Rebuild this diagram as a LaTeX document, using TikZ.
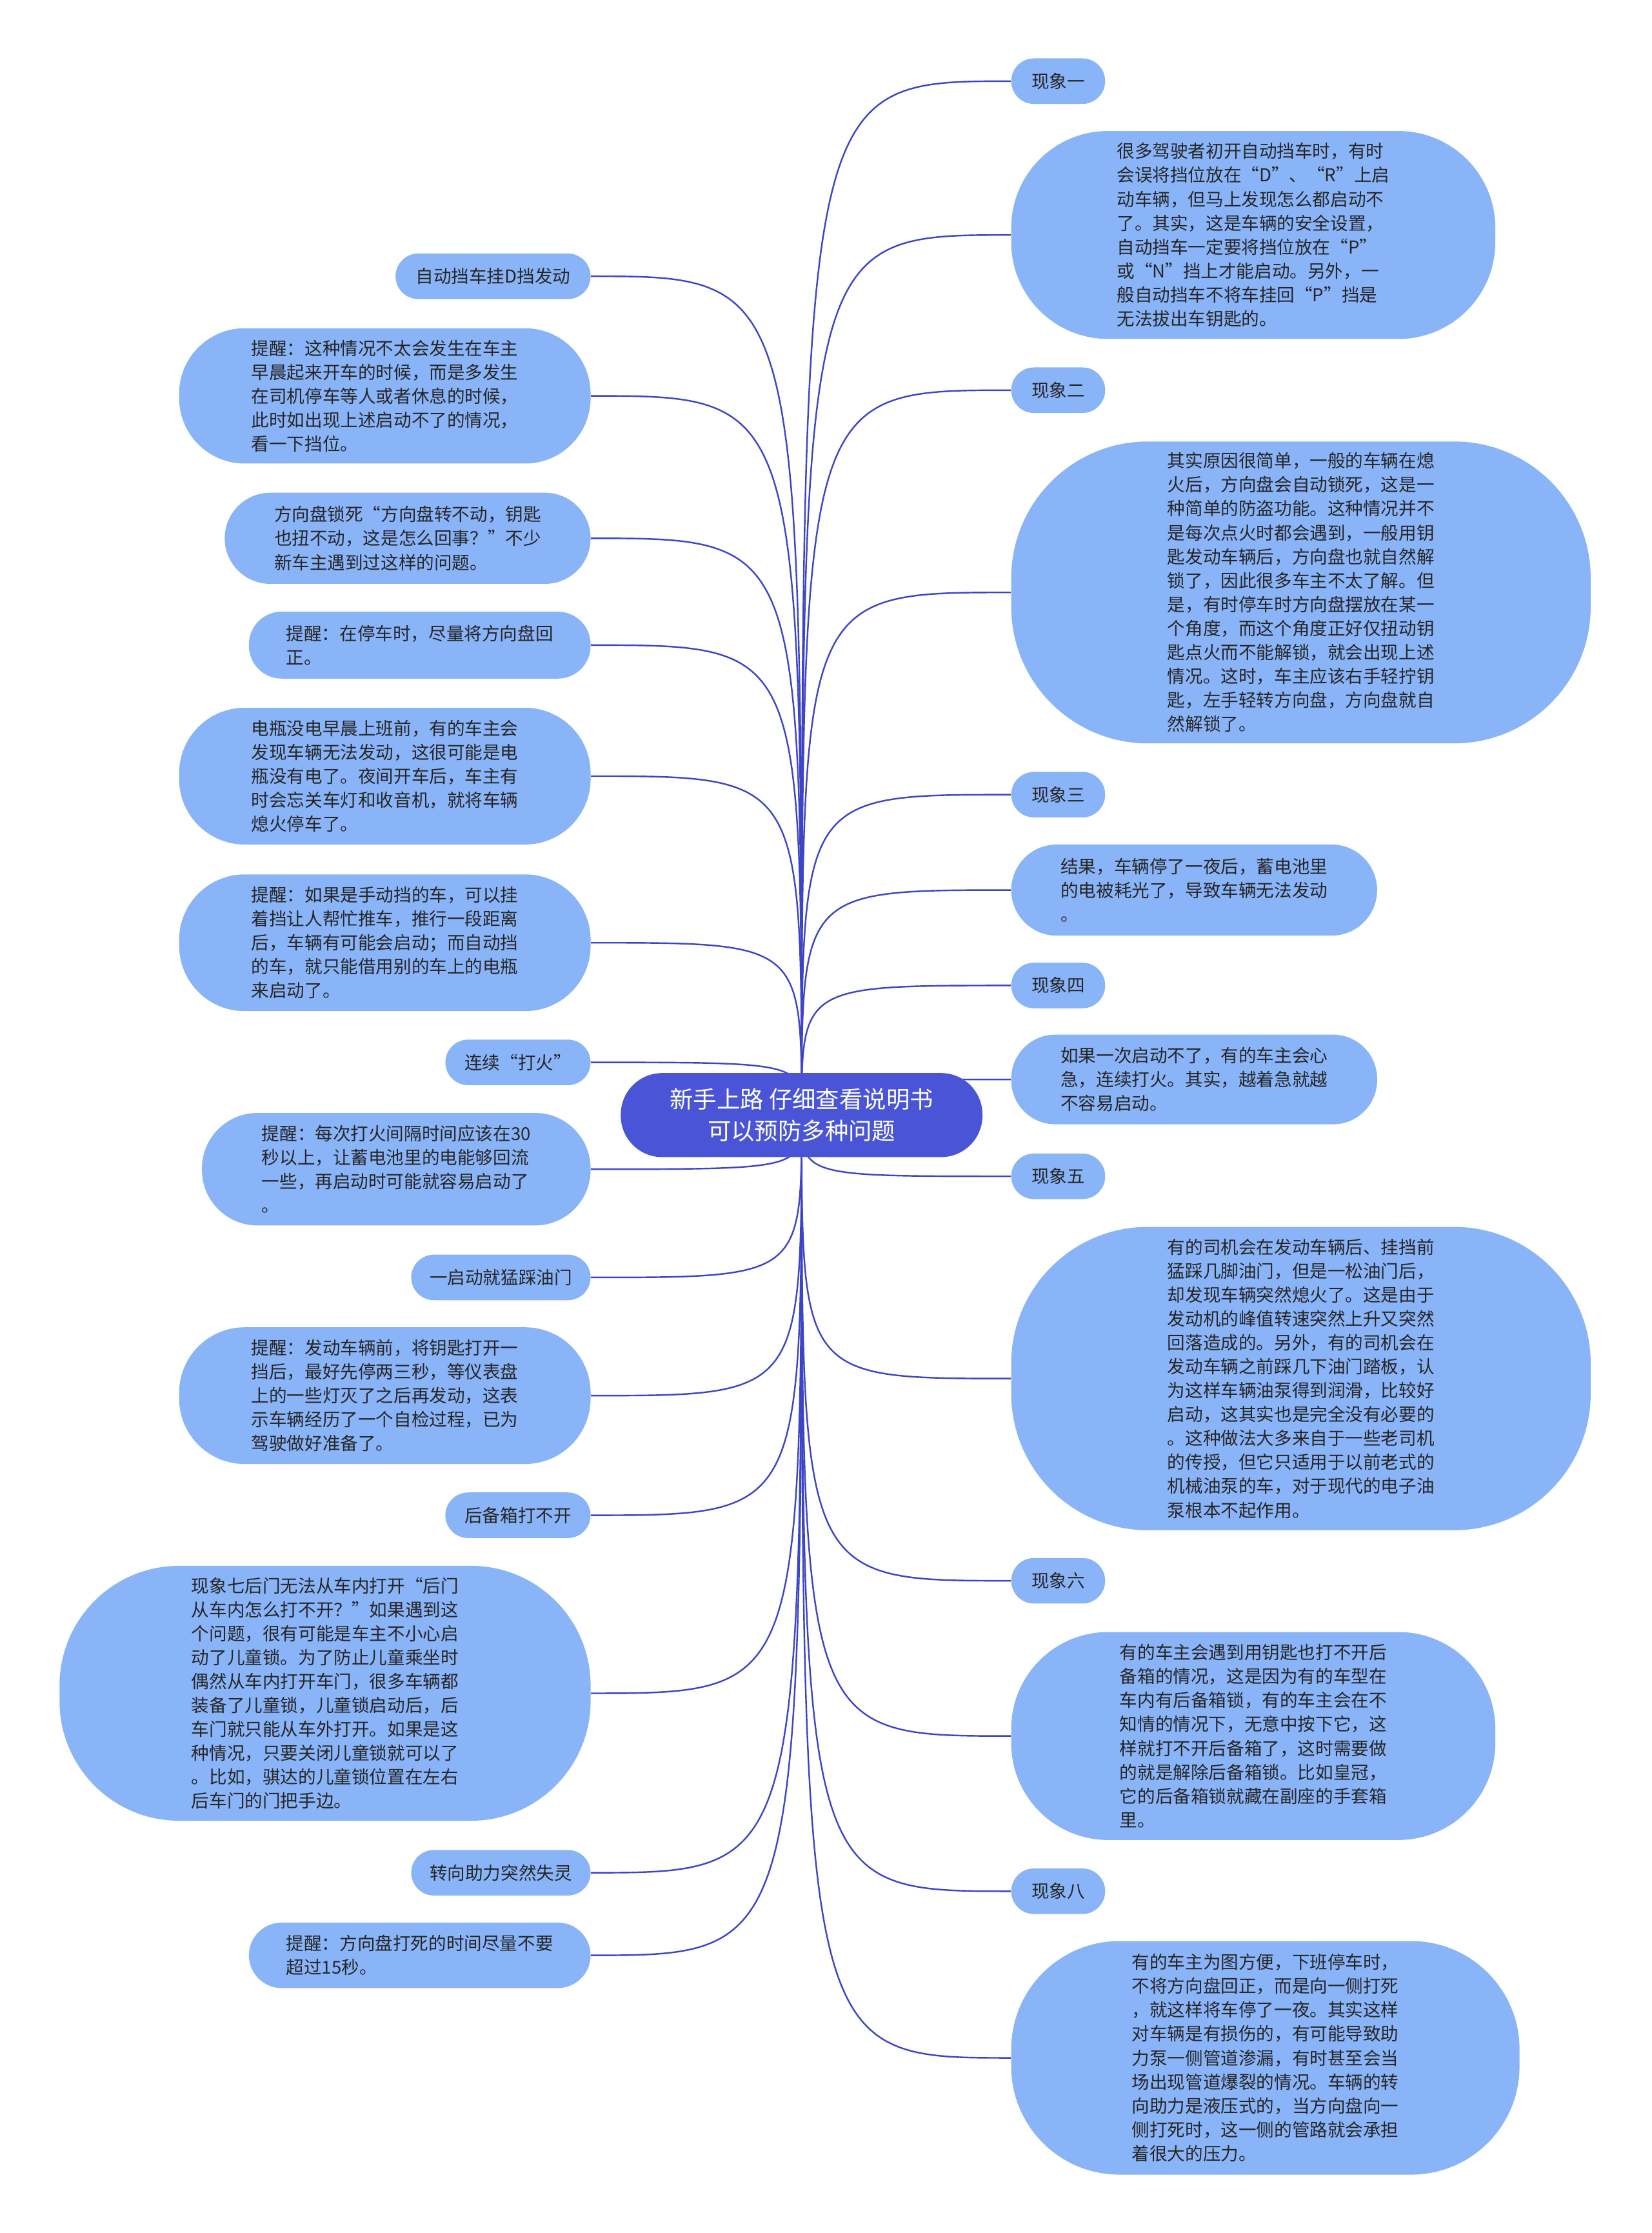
\documentclass[tikz,border=0pt]{standalone}
\usepackage{fontspec}
\newfontfamily\cjk{Noto Sans CJK SC}
\usetikzlibrary{positioning}
\pgfdeclarelayer{bg}
\pgfsetlayers{bg,main}
\definecolor{leafblue}{HTML}{8AB4F8}
\definecolor{rootblue}{HTML}{4A54D6}
\definecolor{linkblue}{HTML}{3D45C6}
\tikzset{
  leaf/.style={fill=leafblue, text=black!85, align=left, inner sep=0pt,
    font=\cjk\fontsize{12.5}{16.8}\selectfont},
  tag/.style={leaf, rounded corners=16pt, minimum height=32pt},
  blob/.style={leaf, rounded corners=#1},
  link/.style={draw=linkblue, line width=1.1pt},
}
\begin{document}
\begin{tikzpicture}[x=1pt, y=-1pt]
        % Page frame
        \useasboundingbox (0,0) rectangle (1160,1568);

        % Root node
        \node[fill=rootblue, text=white, rounded corners=29pt, minimum width=254pt,
          minimum height=59pt, align=center, inner sep=0pt,
          font=\cjk\fontsize{16.5}{22}\selectfont] (root) at (563,783)
          {新手上路 仔细查看说明书\\可以预防多种问题};

        % Right branch
        \node[tag, minimum width=66pt, anchor=west] (p1) at (710,57) {现象一};
        \node[blob=68pt, minimum width=340pt, minimum height=146pt, anchor=west] (t1) at (710,165)
          {很多驾驶者初开自动挡车时，有时\\会误将挡位放在“D”、“R”上启\\动车辆，但马上发现怎么都启动不\\了。其实，这是车辆的安全设置，\\自动挡车一定要将挡位放在“P”\\或“N”挡上才能启动。另外，一\\般自动挡车不将车挂回“P”挡是\\无法拔出车钥匙的。};
        \node[tag, minimum width=66pt, anchor=west] (p2) at (710,274) {现象二};
        \node[blob=96pt, minimum width=407pt, minimum height=212pt, anchor=west] (t2) at (710,416)
          {其实原因很简单，一般的车辆在熄\\火后，方向盘会自动锁死，这是一\\种简单的防盗功能。这种情况并不\\是每次点火时都会遇到，一般用钥\\匙发动车辆后，方向盘也就自然解\\锁了，因此很多车主不太了解。但\\是，有时停车时方向盘摆放在某一\\个角度，而这个角度正好仅扭动钥\\匙点火而不能解锁，就会出现上述\\情况。这时，车主应该右手轻拧钥\\匙，左手轻转方向盘，方向盘就自\\然解锁了。};
        \node[tag, minimum width=66pt, anchor=west] (p3) at (710,558) {现象三};
        \node[blob=32pt, minimum width=257pt, minimum height=64pt, anchor=west] (t3) at (710,625)
          {结果，车辆停了一夜后，蓄电池里\\的电被耗光了，导致车辆无法发动\\。};
        \node[tag, minimum width=66pt, anchor=west] (p4) at (710,692) {现象四};
        \node[blob=31pt, minimum width=257pt, minimum height=63pt, anchor=west] (t4) at (710,758)
          {如果一次启动不了，有的车主会心\\急，连续打火。其实，越着急就越\\不容易启动。};
        \node[tag, minimum width=66pt, anchor=west] (p5) at (710,826) {现象五};
        \node[blob=96pt, minimum width=407pt, minimum height=213pt, anchor=west] (t5) at (710,968)
          {有的司机会在发动车辆后、挂挡前\\猛踩几脚油门，但是一松油门后，\\却发现车辆突然熄火了。这是由于\\发动机的峰值转速突然上升又突然\\回落造成的。另外，有的司机会在\\发动车辆之前踩几下油门踏板，认\\为这样车辆油泵得到润滑，比较好\\启动，这其实也是完全没有必要的\\。这种做法大多来自于一些老司机\\的传授，但它只适用于以前老式的\\机械油泵的车，对于现代的电子油\\泵根本不起作用。};
        \node[tag, minimum width=66pt, anchor=west] (p6) at (710,1110) {现象六};
        \node[blob=68pt, minimum width=340pt, minimum height=146pt, anchor=west] (t6) at (710,1219)
          {有的车主会遇到用钥匙也打不开后\\备箱的情况，这是因为有的车型在\\车内有后备箱锁，有的车主会在不\\知情的情况下，无意中按下它，这\\样就打不开后备箱了，这时需要做\\的就是解除后备箱锁。比如皇冠，\\它的后备箱锁就藏在副座的手套箱\\里。};
        \node[tag, minimum width=66pt, anchor=west] (p8) at (710,1328) {现象八};
        \node[blob=76pt, minimum width=357pt, minimum height=164pt, anchor=west] (t8) at (710,1445)
          {有的车主为图方便，下班停车时，\\不将方向盘回正，而是向一侧打死\\，就这样将车停了一夜。其实这样\\对车辆是有损伤的，有可能导致助\\力泵一侧管道渗漏，有时甚至会当\\场出现管道爆裂的情况。车辆的转\\向助力是液压式的，当方向盘向一\\侧打死时，这一侧的管路就会承担\\着很大的压力。};

        % Left branch
        \node[tag, minimum width=137pt, anchor=east] (l1) at (415,194) {自动挡车挂D挡发动};
        \node[blob=46pt, minimum width=289pt, minimum height=95pt, anchor=east] (l2) at (415,278)
          {提醒：这种情况不太会发生在车主\\早晨起来开车的时候，而是多发生\\在司机停车等人或者休息的时候，\\此时如出现上述启动不了的情况，\\看一下挡位。};
        \node[blob=32pt, minimum width=257pt, minimum height=64pt, anchor=east] (l3) at (415,378)
          {方向盘锁死“方向盘转不动，钥匙\\也扭不动，这是怎么回事？”不少\\新车主遇到过这样的问题。};
        \node[blob=23pt, minimum width=240pt, minimum height=47pt, anchor=east] (l4) at (415,453)
          {提醒：在停车时，尽量将方向盘回\\正。};
        \node[blob=46pt, minimum width=289pt, minimum height=96pt, anchor=east] (l5) at (415,545)
          {电瓶没电早晨上班前，有的车主会\\发现车辆无法发动，这很可能是电\\瓶没有电了。夜间开车后，车主有\\时会忘关车灯和收音机，就将车辆\\熄火停车了。};
        \node[blob=46pt, minimum width=289pt, minimum height=96pt, anchor=east] (l6) at (415,662)
          {提醒：如果是手动挡的车，可以挂\\着挡让人帮忙推车，推行一段距离\\后，车辆有可能会启动；而自动挡\\的车，就只能借用别的车上的电瓶\\来启动了。};
        \node[tag, minimum width=102pt, anchor=east] (l7) at (415,746) {连续“打火”};
        \node[blob=39pt, minimum width=273pt, minimum height=79pt, anchor=east] (l8) at (415,821)
          {提醒：每次打火间隔时间应该在30\\秒以上，让蓄电池里的电能够回流\\一些，再启动时可能就容易启动了\\。};
        \node[tag, minimum width=126pt, anchor=east] (l9) at (415,897) {一启动就猛踩油门};
        \node[blob=46pt, minimum width=289pt, minimum height=96pt, anchor=east] (l10) at (415,980)
          {提醒：发动车辆前，将钥匙打开一\\挡后，最好先停两三秒，等仪表盘\\上的一些灯灭了之后再发动，这表\\示车辆经历了一个自检过程，已为\\驾驶做好准备了。};
        \node[tag, minimum width=102pt, anchor=east] (l11) at (415,1064) {后备箱打不开};
        \node[blob=84pt, minimum width=373pt, minimum height=179pt, anchor=east] (l12) at (415,1189)
          {现象七后门无法从车内打开“后门\\从车内怎么打不开？”如果遇到这\\个问题，很有可能是车主不小心启\\动了儿童锁。为了防止儿童乘坐时\\偶然从车内打开车门，很多车辆都\\装备了儿童锁，儿童锁启动后，后\\车门就只能从车外打开。如果是这\\种情况，只要关闭儿童锁就可以了\\。比如，骐达的儿童锁位置在左右\\后车门的门把手边。};
        \node[tag, minimum width=126pt, anchor=east] (l13) at (415,1315) {转向助力突然失灵};
        \node[blob=23pt, minimum width=240pt, minimum height=46pt, anchor=east] (l14) at (415,1373)
          {提醒：方向盘打死的时间尽量不要\\超过15秒。};

        % Connectors behind the nodes
        \begin{pgfonlayer}{bg}
        \foreach \n in {p1,t1,p2,t2,p3,t3,p4,t4,p5,t5,p6,t6,p8,t8} {
            \draw[link] (root.center) .. controls (root.center |- \n.west) .. (\n.west);
        }
        \foreach \n in {l1,l2,l3,l4,l5,l6,l7,l8,l9,l10,l11,l12,l13,l14} {
            \draw[link] (root.center) .. controls (root.center |- \n.east) .. (\n.east);
        }
        \end{pgfonlayer}
\end{tikzpicture}
\end{document}
